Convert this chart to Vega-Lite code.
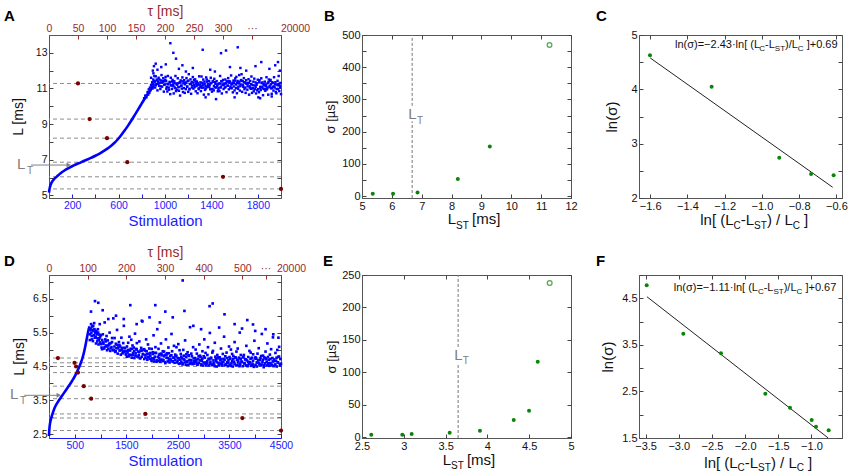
{
"$schema": "https://vega.github.io/schema/vega-lite/v6.json",
"background": "white",
"padding": {"left": 3, "top": 3, "right": 5, "bottom": 5},
"config": {
  "font": "Liberation Sans",
  "view": {"stroke": "#555", "strokeWidth": 1},
  "axis": {"grid": false, "domainColor": "#555", "tickColor": "#444", "tickSize": -4, "labelPadding": 6, "labelFontSize": 11, "labelColor": "#111", "titleFontSize": 14, "titleFontWeight": "normal", "titleColor": "#111", "labelFlush": false, "labelOverlap": false, "tickCount": 100},
  "text": {"font": "Liberation Sans"}
},
"columns": 5,
"spacing": {"row": 77, "column": 0},
"bounds": "flush",
"align": "each",
"concat": [
{
 "width": 232, "height": 163,
 "layer": [
  {"layer": [
    {"data": {"values": [{"y":5.36},{"y":6.04},{"y":6.86},{"y":8.21},{"y":9.28},{"y":11.28}]},
     "mark": {"type": "rule", "color": "#8c8c8c", "strokeDash": [4,3], "strokeWidth": 1},
     "encoding": {"y": {"field": "y", "type": "quantitative", "scale": {"domain": [4.85,14], "nice": false, "zero": false}, "axis": {"title": "L [ms]", "format": "d", "tickCount": 100, "labelOverlap": false, "values": [5,6,7,8,9,10,11,12,13], "labelExpr": "datum.value % 2 == 1 ? datum.label : ''", "titlePadding": 10, "labelFontSize": 10.5}}}},
    {"data": {"values": [{"x":0,"y":5.15},{"x":3,"y":5.3},{"x":8,"y":5.46},{"x":17,"y":5.64},{"x":30,"y":5.8},{"x":45,"y":5.92},{"x":60,"y":6.01},{"x":80,"y":6.13},{"x":100,"y":6.24},{"x":130,"y":6.38},{"x":160,"y":6.5},{"x":195,"y":6.62},{"x":230,"y":6.73},{"x":275,"y":6.85},{"x":320,"y":6.98},{"x":360,"y":7.1},{"x":400,"y":7.22},{"x":440,"y":7.36},{"x":480,"y":7.52},{"x":520,"y":7.7},{"x":560,"y":7.92},{"x":590,"y":8.12},{"x":620,"y":8.36},{"x":650,"y":8.62},{"x":680,"y":8.9},{"x":710,"y":9.2},{"x":740,"y":9.52},{"x":770,"y":9.84},{"x":800,"y":10.16},{"x":830,"y":10.48},{"x":860,"y":10.78},{"x":885,"y":11.0},{"x":905,"y":11.15}]},
     "mark": {"type": "line", "color": "#0000ff", "strokeWidth": 2.6, "interpolate": "monotone"},
     "encoding": {"x": {"field": "x", "type": "quantitative", "scale": {"domain": [0,2000], "nice": false, "zero": false}, "axis": {"title": "Stimulation", "titleColor": "#1a1aff", "titleFontSize": 15, "labelColor": "#1a1aff", "tickColor": "#1a1aff", "labelFontSize": 10.5, "format": "d", "tickCount": 100, "labelOverlap": false, "values": [200,400,600,800,1000,1200,1400,1600,1800], "labelExpr": "datum.value % 400 == 200 ? datum.label : ''", "titlePadding": 3}},
       "y": {"field": "y", "type": "quantitative"}}},
    {"data": {"values": [
{"x":820,"y":10.45},{"x":830,"y":10.6},{"x":840,"y":10.5},{"x":850,"y":10.8},{"x":855,"y":10.65},{"x":860,"y":10.95},{"x":865,"y":10.75},{"x":870,"y":11.05},{"x":875,"y":10.9},{"x":880,"y":11.2},{"x":885,"y":11.1},{"x":890,"y":11.35},{"x":893,"y":11.0},{"x":896,"y":11.25},{"x":899,"y":11.5},{"x":902,"y":11.2},{"x":905,"y":11.4},{"x":908,"y":11.7},{"x":900,"y":11.85},{"x":895,"y":12.0},{"x":905,"y":12.25},{"x":880,"y":11.6},
{"x":910,"y":11.42},{"x":915,"y":11.05},{"x":920,"y":11.68},{"x":925,"y":11.25},{"x":930,"y":11.5},{"x":935,"y":10.89},{"x":940,"y":11.38},{"x":945,"y":11.6},{"x":950,"y":11.15},{"x":955,"y":11.32},
{"x":960,"y":10.97},{"x":965,"y":11.45},{"x":970,"y":11.75},{"x":975,"y":11.1},{"x":980,"y":11.35},{"x":985,"y":11.57},{"x":990,"y":10.82},{"x":995,"y":11.4},{"x":1000,"y":11.22},{"x":1005,"y":11.65},
{"x":1010,"y":11.42},{"x":1015,"y":11.08},{"x":1020,"y":10.83},{"x":1025,"y":11.7},{"x":1030,"y":11.23},{"x":1035,"y":10.93},{"x":1040,"y":11.37},{"x":1045,"y":10.68},{"x":1050,"y":11.6},{"x":1055,"y":11.17},
{"x":1060,"y":10.97},{"x":1065,"y":11.48},{"x":1070,"y":11.22},{"x":1075,"y":10.72},{"x":1080,"y":11.4},{"x":1085,"y":11.05},{"x":1090,"y":11.7},{"x":1095,"y":10.85},{"x":1100,"y":11.28},{"x":1105,"y":10.93},
{"x":1110,"y":11.57},{"x":1115,"y":11.08},{"x":1120,"y":10.87},{"x":1125,"y":11.33},{"x":1130,"y":10.6},{"x":1135,"y":11.45},{"x":1140,"y":11.15},{"x":1145,"y":10.99},{"x":1150,"y":11.62},{"x":1155,"y":10.8},
{"x":1160,"y":11.29},{"x":1165,"y":11.46},{"x":1170,"y":10.75},{"x":1175,"y":11.34},{"x":1180,"y":10.96},{"x":1185,"y":11.58},{"x":1190,"y":11.09},{"x":1195,"y":11.41},{"x":1200,"y":10.81},{"x":1205,"y":11.8},
{"x":1210,"y":10.94},{"x":1215,"y":11.24},{"x":1220,"y":11.51},{"x":1225,"y":10.7},{"x":1230,"y":11.36},{"x":1235,"y":11.16},{"x":1240,"y":11.64},{"x":1245,"y":10.99},{"x":1250,"y":11.48},{"x":1255,"y":11.07},
{"x":1260,"y":11.51},{"x":1265,"y":10.84},{"x":1270,"y":11.26},{"x":1275,"y":11.39},{"x":1280,"y":10.73},{"x":1285,"y":11.21},{"x":1290,"y":10.96},{"x":1295,"y":11.68},{"x":1300,"y":11.06},{"x":1305,"y":11.34},
{"x":1310,"y":10.85},{"x":1315,"y":11.67},{"x":1320,"y":11.04},{"x":1325,"y":11.2},{"x":1330,"y":11.5},{"x":1335,"y":10.65},{"x":1340,"y":11.38},{"x":1345,"y":10.92},{"x":1350,"y":11.13},{"x":1355,"y":11.62},
{"x":1360,"y":11.5},{"x":1365,"y":11.07},{"x":1370,"y":11.25},{"x":1375,"y":10.67},{"x":1380,"y":11.42},{"x":1385,"y":11.2},{"x":1390,"y":10.95},{"x":1395,"y":11.6},{"x":1400,"y":11.3},{"x":1405,"y":10.82},
{"x":1410,"y":10.97},{"x":1415,"y":11.38},{"x":1420,"y":10.89},{"x":1425,"y":11.54},{"x":1430,"y":11.06},{"x":1435,"y":11.26},{"x":1440,"y":10.4},{"x":1445,"y":11.41},{"x":1450,"y":11.14},{"x":1455,"y":10.84},
{"x":1460,"y":10.93},{"x":1465,"y":11.28},{"x":1470,"y":10.85},{"x":1475,"y":11.7},{"x":1480,"y":11.05},{"x":1485,"y":11.4},{"x":1490,"y":10.72},{"x":1495,"y":11.22},{"x":1500,"y":11.48},{"x":1505,"y":10.97},
{"x":1510,"y":11.22},{"x":1515,"y":11.05},{"x":1520,"y":11.5},{"x":1525,"y":11.28},{"x":1530,"y":10.79},{"x":1535,"y":11.4},{"x":1540,"y":11.15},{"x":1545,"y":11.58},{"x":1550,"y":10.95},{"x":1555,"y":11.32},
{"x":1560,"y":11.39},{"x":1565,"y":11.11},{"x":1570,"y":11.73},{"x":1575,"y":11.01},{"x":1580,"y":11.26},{"x":1585,"y":10.78},{"x":1590,"y":11.44},{"x":1595,"y":11.31},{"x":1600,"y":10.89},{"x":1605,"y":11.56},
{"x":1610,"y":11.22},{"x":1615,"y":11.65},{"x":1620,"y":10.73},{"x":1625,"y":11.42},{"x":1630,"y":10.98},{"x":1635,"y":11.28},{"x":1640,"y":11.75},{"x":1645,"y":10.88},{"x":1650,"y":11.13},{"x":1655,"y":11.47},
{"x":1660,"y":11.8},{"x":1665,"y":10.81},{"x":1670,"y":11.41},{"x":1675,"y":11.09},{"x":1680,"y":11.58},{"x":1685,"y":10.96},{"x":1690,"y":11.34},{"x":1695,"y":10.75},{"x":1700,"y":11.46},{"x":1705,"y":11.29},
{"x":1710,"y":10.93},{"x":1715,"y":11.27},{"x":1720,"y":11.52},{"x":1725,"y":10.65},{"x":1730,"y":11.12},{"x":1735,"y":11.42},{"x":1740,"y":10.98},{"x":1745,"y":11.67},{"x":1750,"y":10.75},{"x":1755,"y":11.18},
{"x":1760,"y":11.01},{"x":1765,"y":10.84},{"x":1770,"y":11.55},{"x":1775,"y":10.96},{"x":1780,"y":11.34},{"x":1785,"y":10.72},{"x":1790,"y":11.21},{"x":1795,"y":10.89},{"x":1800,"y":11.49},{"x":1805,"y":10.5},
{"x":1810,"y":10.79},{"x":1815,"y":11.46},{"x":1820,"y":11.04},{"x":1825,"y":10.91},{"x":1830,"y":11.57},{"x":1835,"y":11.09},{"x":1840,"y":11.34},{"x":1845,"y":10.62},{"x":1850,"y":11.24},{"x":1855,"y":10.96},
{"x":1860,"y":11.38},{"x":1865,"y":10.87},{"x":1870,"y":11.13},{"x":1875,"y":11.63},{"x":1880,"y":10.95},{"x":1885,"y":11.3},{"x":1890,"y":10.65},{"x":1895,"y":11.5},{"x":1900,"y":11.07},{"x":1905,"y":11.42},
{"x":1910,"y":11.48},{"x":1915,"y":11.0},{"x":1920,"y":10.7},{"x":1925,"y":11.35},{"x":1930,"y":11.1},{"x":1935,"y":10.88},{"x":1940,"y":11.63},{"x":1945,"y":11.05},{"x":1950,"y":11.23},{"x":1955,"y":10.8},
{"x":1960,"y":10.73},{"x":1965,"y":11.22},{"x":1970,"y":11.43},{"x":1975,"y":10.97},{"x":1980,"y":11.7},{"x":1985,"y":10.85},{"x":1990,"y":11.15},{"x":1995,"y":11.31},{"x":2000,"y":10.68},
{"x":912,"y":11.38},{"x":922,"y":11.18},{"x":932,"y":11.45},{"x":942,"y":11.26},{"x":952,"y":11.5},{"x":962,"y":11.12},{"x":972,"y":11.33},{"x":982,"y":11.41},{"x":992,"y":11.21},{"x":1002,"y":11.49},
{"x":1012,"y":10.98},{"x":1022,"y":11.26},{"x":1032,"y":11.05},{"x":1042,"y":11.33},{"x":1052,"y":11.18},{"x":1062,"y":11.38},{"x":1072,"y":11.13},{"x":1082,"y":11.3},{"x":1092,"y":11.0},{"x":1102,"y":11.21},
{"x":1112,"y":11.28},{"x":1122,"y":11.08},{"x":1132,"y":11.35},{"x":1142,"y":11.16},{"x":1152,"y":11.4},{"x":1162,"y":11.02},{"x":1172,"y":11.23},{"x":1182,"y":11.31},{"x":1192,"y":11.11},{"x":1202,"y":11.44},
{"x":1212,"y":10.98},{"x":1222,"y":11.26},{"x":1232,"y":11.05},{"x":1242,"y":11.33},{"x":1252,"y":11.18},{"x":1262,"y":11.38},{"x":1272,"y":11.13},{"x":1282,"y":11.3},{"x":1292,"y":11.0},{"x":1302,"y":11.21},
{"x":1312,"y":11.12},{"x":1322,"y":11.32},{"x":1332,"y":11.05},{"x":1342,"y":11.24},{"x":1352,"y":11.0},{"x":1362,"y":11.38},{"x":1372,"y":11.17},{"x":1382,"y":11.09},{"x":1392,"y":11.29},{"x":1402,"y":10.96},
{"x":1412,"y":11.42},{"x":1422,"y":11.14},{"x":1432,"y":11.35},{"x":1442,"y":11.05},{"x":1452,"y":11.22},{"x":1462,"y":11.02},{"x":1472,"y":11.27},{"x":1482,"y":11.1},{"x":1492,"y":11.4},{"x":1502,"y":11.19},
{"x":1512,"y":11.28},{"x":1522,"y":11.08},{"x":1532,"y":11.35},{"x":1542,"y":11.16},{"x":1552,"y":11.4},{"x":1562,"y":11.02},{"x":1572,"y":11.23},{"x":1582,"y":11.31},{"x":1592,"y":11.11},{"x":1602,"y":11.44},
{"x":1612,"y":11.03},{"x":1622,"y":11.31},{"x":1632,"y":11.1},{"x":1642,"y":11.38},{"x":1652,"y":11.23},{"x":1662,"y":11.43},{"x":1672,"y":11.18},{"x":1682,"y":11.35},{"x":1692,"y":11.05},{"x":1702,"y":11.26},
{"x":1712,"y":11.12},{"x":1722,"y":11.32},{"x":1732,"y":11.05},{"x":1742,"y":11.24},{"x":1752,"y":11.0},{"x":1762,"y":11.38},{"x":1772,"y":11.17},{"x":1782,"y":11.09},{"x":1792,"y":11.29},{"x":1802,"y":10.96},
{"x":1812,"y":11.37},{"x":1822,"y":11.09},{"x":1832,"y":11.3},{"x":1842,"y":11.0},{"x":1852,"y":11.17},{"x":1862,"y":10.97},{"x":1872,"y":11.22},{"x":1882,"y":11.05},{"x":1892,"y":11.35},{"x":1902,"y":11.14},
{"x":1912,"y":11.23},{"x":1922,"y":11.03},{"x":1932,"y":11.3},{"x":1942,"y":11.11},{"x":1952,"y":11.35},{"x":1962,"y":10.97},{"x":1972,"y":11.18},{"x":1982,"y":11.26},{"x":1992,"y":11.06},
{"x":920,"y":12.39},{"x":935,"y":12.05},{"x":968,"y":12.2},{"x":1007,"y":12.35},{"x":1046,"y":13.54},{"x":1072,"y":13.0},{"x":1095,"y":12.67},{"x":1120,"y":12.1},{"x":1150,"y":12.3},{"x":1180,"y":11.95},{"x":1240,"y":12.15},{"x":1325,"y":13.17},{"x":1350,"y":10.5},{"x":1390,"y":12.05},{"x":1430,"y":11.95},{"x":1483,"y":12.98},{"x":1526,"y":13.13},{"x":1560,"y":12.2},{"x":1600,"y":10.5},{"x":1627,"y":13.31},{"x":1650,"y":12.15},{"x":1700,"y":12.0},{"x":1780,"y":12.25},{"x":1820,"y":10.45},{"x":1830,"y":12.48},{"x":1900,"y":12.1},{"x":1920,"y":10.55},{"x":1950,"y":12.3},{"x":1974,"y":12.48},{"x":1990,"y":12.0}
     ]},
     "mark": {"type": "square", "color": "#0000ff", "size": 6, "opacity": 1},
     "encoding": {"x": {"field": "x", "type": "quantitative"}, "y": {"field": "y", "type": "quantitative"}}},
    {"data": {"values": [{"x":-155,"x2":175,"y":6.7}]},
     "mark": {"type": "rule", "color": "#808080", "strokeWidth": 1},
     "encoding": {"x": {"field": "x", "type": "quantitative"}, "x2": {"field": "x2"}, "y": {"field": "y", "type": "quantitative"}}},
    {"data": {"values": [{"x":170,"y":6.7}]},
     "mark": {"type": "point", "shape": "triangle-right", "filled": true, "color": "#808080", "size": 26, "opacity": 1},
     "encoding": {"x": {"field": "x", "type": "quantitative"}, "y": {"field": "y", "type": "quantitative"}}},
    {"data": {"values": [{"x":-276,"y":6.48,"t":"L"}]},
     "mark": {"type": "text", "align": "left", "baseline": "alphabetic", "fontSize": 15, "color": "#808080"},
     "encoding": {"x": {"field": "x", "type": "quantitative"}, "y": {"field": "y", "type": "quantitative"}, "text": {"field": "t"}}},
    {"data": {"values": [{"x":-190,"y":6.22,"t":"T"}]},
     "mark": {"type": "text", "align": "left", "baseline": "alphabetic", "fontSize": 10, "color": "#808080"},
     "encoding": {"x": {"field": "x", "type": "quantitative"}, "y": {"field": "y", "type": "quantitative"}, "text": {"field": "t"}}},
    {"data": {"values": [{"x":-388,"y":14.79,"t":"A"}]},
     "mark": {"type": "text", "align": "left", "baseline": "alphabetic", "fontSize": 15, "fontWeight": "bold", "color": "#000"},
     "encoding": {"x": {"field": "x", "type": "quantitative"}, "y": {"field": "y", "type": "quantitative"}, "text": {"field": "t"}}}
  ]},
  {"data": {"values": [{"x":50,"y":11.28},{"x":70,"y":9.28},{"x":100,"y":8.21},{"x":135,"y":6.86},{"x":300,"y":6.04},{"x":400,"y":5.36}]},
   "mark": {"type": "circle", "color": "#7a0000", "size": 18, "opacity": 1},
   "encoding": {
     "x": {"field": "x", "type": "quantitative", "scale": {"domain": [0,400], "nice": false, "zero": false}, "axis": {"orient": "top", "title": "τ [ms]", "titleColor": "#992a2a", "titleFontSize": 14, "labelColor": "#992a2a", "tickColor": "#992a2a", "domainColor": "#a03c3c", "labelFontSize": 10.5, "format": "d", "tickCount": 100, "labelOverlap": false, "values": [0,50,100,150,200,250,300,350,400], "labelExpr": "datum.value == 350 ? '···' : datum.value == 400 ? '20000' : datum.label", "labelOffset": {"condition": {"test": "datum.value == 400", "value": 14}, "value": 0}, "titlePadding": 5}},
     "y": {"field": "y", "type": "quantitative", "scale": {"domain": [4.85,14], "nice": false, "zero": false}, "axis": {"orient": "right", "labels": false, "title": null, "domain": false, "tickCount": 100, "values": [5,6,7,8,9,10,11,12,13]}}}}
 ],
 "resolve": {"scale": {"x": "independent"}, "axis": {"x": "independent", "y": "independent"}}
},
{"width": 81, "height": 163, "view": {"stroke": null}, "data": {"values": [{"a":1}]}, "mark": {"type": "point", "opacity": 0}, "encoding": {}},
{
 "width": 209, "height": 163,
 "layer": [
  {"layer": [
    {"data": {"values": [{"x":6.68,"y":-6,"y2":232},{"x":6.68,"y":280,"y2":500}]},
     "mark": {"type": "rule", "color": "#777", "strokeDash": [3,2], "strokeWidth": 1},
     "encoding": {"x": {"field": "x", "type": "quantitative", "scale": {"domain": [5,12], "nice": false, "zero": false}, "axis": {"title": null, "format": "d", "tickCount": 100, "labelOverlap": false, "values": [5,6,7,8,9,10,11,12]}},
       "y": {"field": "y", "type": "quantitative", "scale": {"domain": [-6,500], "nice": false, "zero": false}, "axis": {"title": "σ [µs]", "titleFontSize": 13, "format": "d", "tickCount": 100, "labelOverlap": false, "values": [0,50,100,150,200,250,300,350,400,450,500], "labelExpr": "datum.value % 100 == 0 ? datum.label : ''", "titlePadding": 4}},
       "y2": {"field": "y2"}}},
    {"data": {"values": [{"x":5.36,"y":7},{"x":6.04,"y":7},{"x":6.86,"y":11},{"x":8.21,"y":53},{"x":9.28,"y":154}]},
     "mark": {"type": "circle", "color": "#0a840a", "size": 16, "opacity": 1},
     "encoding": {"x": {"field": "x", "type": "quantitative"}, "y": {"field": "y", "type": "quantitative"}}},
    {"data": {"values": [{"x":11.28,"y":469}]},
     "mark": {"type": "point", "filled": false, "color": "#0a840a", "size": 22, "strokeWidth": 1.3},
     "encoding": {"x": {"field": "x", "type": "quantitative"}, "y": {"field": "y", "type": "quantitative"}}},
    {"data": {"values": [{"x":6.551,"y":238.3,"t":"L"},{"x":7.87,"y":-86.8,"t":"L"},{"x":8.684,"y":-86.8,"t":"[ms]"}]},
     "mark": {"type": "text", "align": "left", "baseline": "alphabetic", "fontSize": 15, "color": "#111"},
     "encoding": {"x": {"field": "x", "type": "quantitative"}, "y": {"field": "y", "type": "quantitative"}, "text": {"field": "t"}, "color": {"condition": {"test": "datum.y > 0", "value": "#808080"}, "value": "#111"}}},
    {"data": {"values": [{"x":6.842,"y":224.6,"t":"T"},{"x":8.148,"y":-100.8,"t":"ST"}]},
     "mark": {"type": "text", "align": "left", "baseline": "alphabetic", "fontSize": 10},
     "encoding": {"x": {"field": "x", "type": "quantitative"}, "y": {"field": "y", "type": "quantitative"}, "text": {"field": "t"}, "color": {"condition": {"test": "datum.y > 0", "value": "#808080"}, "value": "#111"}}},
    {"data": {"values": [{"x":3.727,"y":543.5,"t":"B"}]},
     "mark": {"type": "text", "align": "left", "baseline": "alphabetic", "fontSize": 15, "fontWeight": "bold", "color": "#000"},
     "encoding": {"x": {"field": "x", "type": "quantitative"}, "y": {"field": "y", "type": "quantitative"}, "text": {"field": "t"}}}
  ]},
  {"data": {"values": [{"x":5,"y":0}]},
   "mark": {"type": "point", "opacity": 0},
   "encoding": {"x": {"field": "x", "type": "quantitative", "scale": {"domain": [5,12], "nice": false, "zero": false}, "axis": {"orient": "top", "labels": false, "title": null, "domain": false, "tickCount": 100, "values": [5,6,7,8,9,10,11,12]}},
     "y": {"field": "y", "type": "quantitative", "scale": {"domain": [-6,500], "nice": false, "zero": false}, "axis": {"orient": "right", "labels": false, "title": null, "domain": false, "tickCount": 100, "values": [0,50,100,150,200,250,300,350,400,450,500]}}}}
 ],
 "resolve": {"axis": {"x": "independent", "y": "independent"}}
},
{"width": 68, "height": 163, "view": {"stroke": null}, "data": {"values": [{"a":1}]}, "mark": {"type": "point", "opacity": 0}, "encoding": {}},
{
 "width": 203, "height": 163,
 "layer": [
  {"layer": [
    {"data": {"values": [{"x":-1.6,"y":4.578},{"x":-0.62,"y":2.197}]},
     "mark": {"type": "line", "color": "#222", "strokeWidth": 1},
     "encoding": {"x": {"field": "x", "type": "quantitative", "scale": {"domain": [-1.66,-0.57], "nice": false, "zero": false}, "axis": {"title": null, "tickCount": 100, "labelOverlap": false, "values": [-1.6,-1.4,-1.2,-1.0,-0.8,-0.6], "format": ".1f"}},
       "y": {"field": "y", "type": "quantitative", "scale": {"domain": [2,5], "nice": false, "zero": false}, "axis": {"title": "ln(σ)", "titleFontSize": 15, "tickCount": 100, "labelOverlap": false, "values": [2,2.5,3,3.5,4,4.5,5], "format": "~g", "labelExpr": "datum.value % 1 == 0 ? datum.label : ''", "titlePadding": 11}}}},
    {"data": {"values": [{"x":-1.601,"y":4.626},{"x":-1.27,"y":4.049},{"x":-0.907,"y":2.742},{"x":-0.736,"y":2.442},{"x":-0.615,"y":2.418}]},
     "mark": {"type": "circle", "color": "#0a840a", "size": 16, "opacity": 1},
     "encoding": {"x": {"field": "x", "type": "quantitative"}, "y": {"field": "y", "type": "quantitative"}}},
    {"data": {"values": [{"x":-1.4667,"y":4.766,"t":"ln(σ)=−2.43·ln[ (L"},{"x":-0.9834,"y":4.766,"t":"-L"},{"x":-0.8761,"y":4.766,"t":")/L"},{"x":-0.7596,"y":4.766,"t":"]+0.69"}]},
     "mark": {"type": "text", "align": "left", "baseline": "alphabetic", "fontSize": 11, "color": "#111"},
     "encoding": {"x": {"field": "x", "type": "quantitative"}, "y": {"field": "y", "type": "quantitative"}, "text": {"field": "t"}}},
    {"data": {"values": [{"x":-1.0146,"y":4.711,"t":"C"},{"x":-0.9308,"y":4.711,"t":"ST"},{"x":-0.8073,"y":4.711,"t":"C"}]},
     "mark": {"type": "text", "align": "left", "baseline": "alphabetic", "fontSize": 8, "color": "#111"},
     "encoding": {"x": {"field": "x", "type": "quantitative"}, "y": {"field": "y", "type": "quantitative"}, "text": {"field": "t"}}},
    {"data": {"values": [{"x":-1.3309,"y":1.503,"t":"ln[ (L"},{"x":-1.1134,"y":1.503,"t":"-L"},{"x":-0.9733,"y":1.503,"t":") / L"},{"x":-0.7735,"y":1.503,"t":"]"}]},
     "mark": {"type": "text", "align": "left", "baseline": "alphabetic", "fontSize": 15, "color": "#111"},
     "encoding": {"x": {"field": "x", "type": "quantitative"}, "y": {"field": "y", "type": "quantitative"}, "text": {"field": "t"}}},
    {"data": {"values": [{"x":-1.1521,"y":1.429,"t":"C"},{"x":-1.042,"y":1.429,"t":"ST"},{"x":-0.8347,"y":1.429,"t":"C"}]},
     "mark": {"type": "text", "align": "left", "baseline": "alphabetic", "fontSize": 10, "color": "#111"},
     "encoding": {"x": {"field": "x", "type": "quantitative"}, "y": {"field": "y", "type": "quantitative"}, "text": {"field": "t"}}},
    {"data": {"values": [{"x":-1.891,"y":5.258,"t":"C"}]},
     "mark": {"type": "text", "align": "left", "baseline": "alphabetic", "fontSize": 15, "fontWeight": "bold", "color": "#000"},
     "encoding": {"x": {"field": "x", "type": "quantitative"}, "y": {"field": "y", "type": "quantitative"}, "text": {"field": "t"}}}
  ]},
  {"data": {"values": [{"x":-1.6,"y":2}]},
   "mark": {"type": "point", "opacity": 0},
   "encoding": {"x": {"field": "x", "type": "quantitative", "scale": {"domain": [-1.66,-0.57], "nice": false, "zero": false}, "axis": {"orient": "top", "labels": false, "title": null, "domain": false, "tickCount": 100, "values": [-1.6,-1.4,-1.2,-1.0,-0.8,-0.6]}},
     "y": {"field": "y", "type": "quantitative", "scale": {"domain": [2,5], "nice": false, "zero": false}, "axis": {"orient": "right", "labels": false, "title": null, "domain": false, "tickCount": 100, "values": [2,2.5,3,3.5,4,4.5,5]}}}}
 ],
 "resolve": {"axis": {"x": "independent", "y": "independent"}}
},
{
 "width": 232, "height": 163,
 "layer": [
  {"layer": [
    {"data": {"values": [{"y":2.61},{"y":2.98},{"y":3.1},{"y":3.55},{"y":3.92},{"y":4.32},{"y":4.5},{"y":4.61},{"y":4.75}]},
     "mark": {"type": "rule", "color": "#8c8c8c", "strokeDash": [4,3], "strokeWidth": 1},
     "encoding": {"y": {"field": "y", "type": "quantitative", "scale": {"domain": [2.39,7.2], "nice": false, "zero": false}, "axis": {"title": "L [ms]", "format": ".1f", "tickCount": 100, "labelOverlap": false, "values": [2.5,3,3.5,4,4.5,5,5.5,6,6.5,7], "labelExpr": "datum.value % 1 == 0.5 ? datum.label : ''", "titlePadding": 6, "labelFontSize": 10.5}}}},
    {"data": {"values": [{"x":0,"y":2.45},{"x":4,"y":2.58},{"x":10,"y":2.7},{"x":20,"y":2.82},{"x":35,"y":2.93},{"x":55,"y":3.04},{"x":80,"y":3.16},{"x":110,"y":3.28},{"x":150,"y":3.4},{"x":200,"y":3.52},{"x":250,"y":3.63},{"x":300,"y":3.74},{"x":350,"y":3.85},{"x":400,"y":3.96},{"x":450,"y":4.08},{"x":500,"y":4.21},{"x":545,"y":4.35},{"x":590,"y":4.5},{"x":625,"y":4.64},{"x":655,"y":4.78},{"x":680,"y":4.93},{"x":700,"y":5.07},{"x":720,"y":5.22},{"x":740,"y":5.38},{"x":758,"y":5.52},{"x":775,"y":5.63}]},
     "mark": {"type": "line", "color": "#0000ff", "strokeWidth": 2.6, "interpolate": "monotone"},
     "encoding": {"x": {"field": "x", "type": "quantitative", "scale": {"domain": [0,4500], "nice": false, "zero": false}, "axis": {"title": "Stimulation", "titleColor": "#1a1aff", "titleFontSize": 15, "labelColor": "#1a1aff", "tickColor": "#1a1aff", "domainColor": "#1a1aff", "labelFontSize": 10.5, "format": "d", "tickCount": 100, "labelOverlap": false, "values": [500,1000,1500,2000,2500,3000,3500,4000,4500], "labelExpr": "datum.value % 1000 == 500 ? datum.label : ''", "titlePadding": 3}},
       "y": {"field": "y", "type": "quantitative"}}},
    {"data": {"values": [
{"x":780,"y":5.65},{"x":792,"y":5.28},{"x":804,"y":5.58},{"x":816,"y":5.75},{"x":828,"y":5.4},{"x":840,"y":5.68},{"x":852,"y":5.25},{"x":864,"y":5.55},{"x":876,"y":5.78},{"x":888,"y":5.35},
{"x":798,"y":5.45},{"x":810,"y":5.62},{"x":822,"y":5.5},{"x":834,"y":5.3},{"x":846,"y":5.58},{"x":858,"y":5.7},{"x":870,"y":5.42},{"x":882,"y":5.6},{"x":894,"y":5.5},{"x":906,"y":5.38},{"x":918,"y":5.55},{"x":930,"y":5.45},{"x":942,"y":5.33},{"x":954,"y":5.5},{"x":966,"y":5.28},{"x":978,"y":5.44},{"x":990,"y":5.36},
{"x":900,"y":5.35},{"x":912,"y":5.18},{"x":924,"y":5.48},{"x":936,"y":5.24},{"x":948,"y":5.6},{"x":960,"y":5.15},{"x":972,"y":5.32},{"x":984,"y":5.75},{"x":996,"y":5.21},{"x":1008,"y":5.42},
{"x":1020,"y":5.06},{"x":1032,"y":5.28},{"x":1044,"y":5.45},{"x":1056,"y":5.17},{"x":1068,"y":5.03},{"x":1080,"y":5.8},{"x":1092,"y":5.3},{"x":1104,"y":5.12},{"x":1116,"y":5.4},{"x":1128,"y":5.09},
{"x":1140,"y":5.27},{"x":1152,"y":5.02},{"x":1164,"y":5.15},{"x":1176,"y":5.5},{"x":1188,"y":4.96},{"x":1200,"y":5.19},{"x":1212,"y":5.07},{"x":1224,"y":5.34},{"x":1236,"y":4.99},{"x":1248,"y":5.92},
{"x":1260,"y":4.99},{"x":1272,"y":5.34},{"x":1284,"y":4.93},{"x":1296,"y":5.17},{"x":1308,"y":5.04},{"x":1320,"y":5.58},{"x":1332,"y":4.88},{"x":1344,"y":5.12},{"x":1356,"y":5.22},{"x":1368,"y":4.97},
{"x":1380,"y":5.09},{"x":1392,"y":4.85},{"x":1404,"y":5.35},{"x":1416,"y":5.0},{"x":1428,"y":4.89},{"x":1440,"y":5.19},{"x":1452,"y":5.7},{"x":1464,"y":4.94},{"x":1476,"y":5.04},{"x":1488,"y":4.86},
{"x":1500,"y":4.86},{"x":1512,"y":5.09},{"x":1524,"y":4.92},{"x":1536,"y":5.2},{"x":1548,"y":4.8},{"x":1560,"y":5.38},{"x":1572,"y":4.97},{"x":1584,"y":4.84},{"x":1596,"y":5.29},{"x":1608,"y":5.02},
{"x":1620,"y":5.12},{"x":1632,"y":4.84},{"x":1644,"y":5.06},{"x":1656,"y":4.75},{"x":1668,"y":5.47},{"x":1680,"y":4.89},{"x":1692,"y":5.02},{"x":1704,"y":5.19},{"x":1716,"y":4.79},{"x":1728,"y":4.94},
{"x":1740,"y":4.83},{"x":1752,"y":5.24},{"x":1764,"y":4.74},{"x":1776,"y":4.97},{"x":1788,"y":5.05},{"x":1800,"y":4.79},{"x":1812,"y":5.83},{"x":1824,"y":4.86},{"x":1836,"y":5.0},{"x":1848,"y":4.72},
{"x":1860,"y":4.97},{"x":1872,"y":4.76},{"x":1884,"y":5.3},{"x":1896,"y":4.87},{"x":1908,"y":4.7},{"x":1920,"y":5.15},{"x":1932,"y":4.79},{"x":1944,"y":5.03},{"x":1956,"y":4.73},{"x":1968,"y":4.9},
{"x":1980,"y":4.71},{"x":1992,"y":5.02},{"x":2004,"y":4.74},{"x":2016,"y":4.92},{"x":2028,"y":5.42},{"x":2040,"y":4.65},{"x":2052,"y":4.79},{"x":2064,"y":5.07},{"x":2076,"y":4.9},{"x":2088,"y":4.68},
{"x":2100,"y":5.6},{"x":2112,"y":4.67},{"x":2124,"y":5.02},{"x":2136,"y":4.75},{"x":2148,"y":4.87},{"x":2160,"y":4.64},{"x":2172,"y":5.18},{"x":2184,"y":4.83},{"x":2196,"y":4.7},{"x":2208,"y":4.95},
{"x":2220,"y":4.69},{"x":2232,"y":4.94},{"x":2244,"y":4.84},{"x":2256,"y":4.6},{"x":2268,"y":5.3},{"x":2280,"y":4.76},{"x":2292,"y":4.89},{"x":2304,"y":4.65},{"x":2316,"y":5.06},{"x":2328,"y":4.71},
{"x":2340,"y":4.62},{"x":2352,"y":4.8},{"x":2364,"y":4.7},{"x":2376,"y":5.46},{"x":2388,"y":4.95},{"x":2400,"y":4.65},{"x":2412,"y":4.76},{"x":2424,"y":5.11},{"x":2436,"y":4.61},{"x":2448,"y":4.85},
{"x":2460,"y":4.8},{"x":2472,"y":5.07},{"x":2484,"y":4.62},{"x":2496,"y":4.75},{"x":2508,"y":5.16},{"x":2520,"y":4.58},{"x":2532,"y":4.98},{"x":2544,"y":4.7},{"x":2556,"y":4.87},{"x":2568,"y":4.64},
{"x":2580,"y":4.74},{"x":2592,"y":4.59},{"x":2604,"y":4.99},{"x":2616,"y":4.82},{"x":2628,"y":4.69},{"x":2640,"y":5.27},{"x":2652,"y":4.55},{"x":2664,"y":4.86},{"x":2676,"y":4.64},{"x":2688,"y":4.92},
{"x":2700,"y":4.55},{"x":2712,"y":4.83},{"x":2724,"y":4.69},{"x":2736,"y":5.66},{"x":2748,"y":4.62},{"x":2760,"y":4.88},{"x":2772,"y":4.8},{"x":2784,"y":4.57},{"x":2796,"y":5.07},{"x":2808,"y":4.66},
{"x":2820,"y":4.58},{"x":2832,"y":4.75},{"x":2844,"y":5.0},{"x":2856,"y":4.64},{"x":2868,"y":4.88},{"x":2880,"y":4.55},{"x":2892,"y":4.72},{"x":2904,"y":4.61},{"x":2916,"y":5.15},{"x":2928,"y":4.82},
{"x":2940,"y":4.78},{"x":2952,"y":4.56},{"x":2964,"y":4.67},{"x":2976,"y":4.95},{"x":2988,"y":4.53},{"x":3000,"y":4.8},{"x":3012,"y":5.3},{"x":3024,"y":4.59},{"x":3036,"y":4.9},{"x":3048,"y":4.62},
{"x":3060,"y":4.59},{"x":3072,"y":4.84},{"x":3084,"y":5.07},{"x":3096,"y":4.53},{"x":3108,"y":4.72},{"x":3120,"y":5.49},{"x":3132,"y":4.64},{"x":3144,"y":4.76},{"x":3156,"y":4.56},{"x":3168,"y":4.91},
{"x":3180,"y":4.96},{"x":3192,"y":4.61},{"x":3204,"y":4.55},{"x":3216,"y":5.2},{"x":3228,"y":4.79},{"x":3240,"y":4.66},{"x":3252,"y":4.5},{"x":3264,"y":4.84},{"x":3276,"y":4.74},{"x":3288,"y":4.59},
{"x":3300,"y":4.53},{"x":3312,"y":4.77},{"x":3324,"y":4.68},{"x":3336,"y":5.03},{"x":3348,"y":4.57},{"x":3360,"y":4.62},{"x":3372,"y":4.87},{"x":3384,"y":4.72},{"x":3396,"y":5.38},{"x":3408,"y":4.54},
{"x":3420,"y":4.8},{"x":3432,"y":4.57},{"x":3444,"y":4.91},{"x":3456,"y":4.63},{"x":3468,"y":4.51},{"x":3480,"y":4.68},{"x":3492,"y":5.09},{"x":3504,"y":4.55},{"x":3516,"y":4.73},{"x":3528,"y":5.0},
{"x":3540,"y":4.59},{"x":3552,"y":4.87},{"x":3564,"y":4.5},{"x":3576,"y":4.81},{"x":3588,"y":4.64},{"x":3600,"y":5.22},{"x":3612,"y":4.77},{"x":3624,"y":4.54},{"x":3636,"y":4.94},{"x":3648,"y":4.69},
{"x":3660,"y":5.03},{"x":3672,"y":4.62},{"x":3684,"y":4.76},{"x":3696,"y":4.53},{"x":3708,"y":4.58},{"x":3720,"y":4.84},{"x":3732,"y":4.65},{"x":3744,"y":5.62},{"x":3756,"y":4.51},{"x":3768,"y":4.79},
{"x":3780,"y":4.84},{"x":3792,"y":4.6},{"x":3804,"y":4.71},{"x":3816,"y":4.54},{"x":3828,"y":5.11},{"x":3840,"y":4.68},{"x":3852,"y":4.51},{"x":3864,"y":4.78},{"x":3876,"y":4.57},{"x":3888,"y":4.96},
{"x":3900,"y":4.63},{"x":3912,"y":4.91},{"x":3924,"y":4.52},{"x":3936,"y":4.76},{"x":3948,"y":4.58},{"x":3960,"y":4.86},{"x":3972,"y":4.49},{"x":3984,"y":5.26},{"x":3996,"y":4.74},{"x":4008,"y":4.55},
{"x":4020,"y":4.73},{"x":4032,"y":4.5},{"x":4044,"y":4.88},{"x":4056,"y":4.61},{"x":4068,"y":5.04},{"x":4080,"y":4.56},{"x":4092,"y":4.69},{"x":4104,"y":4.53},{"x":4116,"y":4.81},{"x":4128,"y":5.46},
{"x":4140,"y":4.64},{"x":4152,"y":4.82},{"x":4164,"y":4.48},{"x":4176,"y":4.77},{"x":4188,"y":4.59},{"x":4200,"y":4.94},{"x":4212,"y":4.72},{"x":4224,"y":4.53},{"x":4236,"y":5.18},{"x":4248,"y":4.57},
{"x":4260,"y":4.7},{"x":4272,"y":4.52},{"x":4284,"y":4.85},{"x":4296,"y":4.6},{"x":4308,"y":5.01},{"x":4320,"y":4.55},{"x":4332,"y":4.75},{"x":4344,"y":5.36},{"x":4356,"y":4.51},{"x":4368,"y":4.66},
{"x":4380,"y":4.54},{"x":4392,"y":4.9},{"x":4404,"y":4.67},{"x":4416,"y":4.5},{"x":4428,"y":4.99},{"x":4440,"y":4.62},{"x":4452,"y":4.79},{"x":4464,"y":5.08},{"x":4476,"y":4.56},{"x":4488,"y":4.72},{"x":4500,"y":4.58},
{"x":1006,"y":5.16},{"x":1030,"y":5.01},{"x":1054,"y":5.21},{"x":1078,"y":5.07},{"x":1102,"y":5.24},{"x":1126,"y":4.98},{"x":1150,"y":5.12},{"x":1174,"y":5.18},{"x":1198,"y":5.04},{"x":1222,"y":5.22},{"x":1246,"y":4.98},{"x":1270,"y":5.09},{"x":1294,"y":4.95},{"x":1318,"y":5.14},{"x":1342,"y":5.04},{"x":1366,"y":5.13},{"x":1390,"y":4.98},{"x":1414,"y":5.05},{"x":1438,"y":4.94},{"x":1462,"y":5.05},
{"x":1486,"y":4.95},{"x":1510,"y":4.79},{"x":1534,"y":4.99},{"x":1558,"y":4.85},{"x":1582,"y":5.02},{"x":1606,"y":4.76},{"x":1630,"y":4.9},{"x":1654,"y":4.96},{"x":1678,"y":4.82},{"x":1702,"y":5.0},{"x":1726,"y":4.78},{"x":1750,"y":4.92},{"x":1774,"y":4.75},{"x":1798,"y":4.97},{"x":1822,"y":4.87},{"x":1846,"y":5.01},{"x":1870,"y":4.83},{"x":1894,"y":4.95},{"x":1918,"y":4.77},{"x":1942,"y":4.88},
{"x":1966,"y":4.82},{"x":1990,"y":4.67},{"x":2014,"y":4.87},{"x":2038,"y":4.73},{"x":2062,"y":4.9},{"x":2086,"y":4.64},{"x":2110,"y":4.78},{"x":2134,"y":4.84},{"x":2158,"y":4.7},{"x":2182,"y":4.88},{"x":2206,"y":4.66},{"x":2230,"y":4.8},{"x":2254,"y":4.63},{"x":2278,"y":4.85},{"x":2302,"y":4.75},{"x":2326,"y":4.89},{"x":2350,"y":4.71},{"x":2374,"y":4.83},{"x":2398,"y":4.65},{"x":2422,"y":4.76},
{"x":2446,"y":4.7},{"x":2470,"y":4.82},{"x":2494,"y":4.67},{"x":2518,"y":4.74},{"x":2542,"y":4.59},{"x":2566,"y":4.79},{"x":2590,"y":4.56},{"x":2614,"y":4.72},{"x":2638,"y":4.62},{"x":2662,"y":4.78},{"x":2686,"y":4.66},{"x":2710,"y":4.82},{"x":2734,"y":4.58},{"x":2758,"y":4.69},{"x":2782,"y":4.6},{"x":2806,"y":4.74},{"x":2830,"y":4.64},{"x":2854,"y":4.7},{"x":2878,"y":4.57},{"x":2902,"y":4.8},
{"x":2926,"y":4.68},{"x":2950,"y":4.55},{"x":2974,"y":4.73},{"x":2998,"y":4.62},{"x":3022,"y":4.76},{"x":3046,"y":4.53},{"x":3070,"y":4.66},{"x":3094,"y":4.72},{"x":3118,"y":4.58},{"x":3142,"y":4.74},{"x":3166,"y":4.54},{"x":3190,"y":4.68},{"x":3214,"y":4.51},{"x":3238,"y":4.73},{"x":3262,"y":4.63},{"x":3286,"y":4.77},{"x":3310,"y":4.59},{"x":3334,"y":4.71},{"x":3358,"y":4.53},{"x":3382,"y":4.64},
{"x":3406,"y":4.7},{"x":3430,"y":4.55},{"x":3454,"y":4.75},{"x":3478,"y":4.61},{"x":3502,"y":4.78},{"x":3526,"y":4.52},{"x":3550,"y":4.66},{"x":3574,"y":4.72},{"x":3598,"y":4.58},{"x":3622,"y":4.76},{"x":3646,"y":4.54},{"x":3670,"y":4.68},{"x":3694,"y":4.51},{"x":3718,"y":4.73},{"x":3742,"y":4.63},{"x":3766,"y":4.77},{"x":3790,"y":4.59},{"x":3814,"y":4.71},{"x":3838,"y":4.53},{"x":3862,"y":4.64},
{"x":3886,"y":4.58},{"x":3910,"y":4.73},{"x":3934,"y":4.55},{"x":3958,"y":4.67},{"x":3982,"y":4.52},{"x":4006,"y":4.77},{"x":4030,"y":4.62},{"x":4054,"y":4.68},{"x":4078,"y":4.59},{"x":4102,"y":4.75},{"x":4126,"y":4.56},{"x":4150,"y":4.7},{"x":4174,"y":4.53},{"x":4198,"y":4.74},{"x":4222,"y":4.64},{"x":4246,"y":4.78},{"x":4270,"y":4.6},{"x":4294,"y":4.72},{"x":4318,"y":4.54},{"x":4342,"y":4.65},
{"x":4366,"y":4.71},{"x":4390,"y":4.56},{"x":4414,"y":4.76},{"x":4438,"y":4.62},{"x":4462,"y":4.79},{"x":4486,"y":4.53},
{"x":815,"y":6.12},{"x":892,"y":6.43},{"x":956,"y":6.38},{"x":1041,"y":6.16},{"x":1150,"y":5.9},{"x":1300,"y":6.0},{"x":1450,"y":5.9},{"x":1577,"y":6.31},{"x":1700,"y":5.75},{"x":1800,"y":5.85},{"x":1950,"y":5.95},{"x":2062,"y":6.31},{"x":2150,"y":5.8},{"x":2256,"y":6.12},{"x":2400,"y":5.95},{"x":2593,"y":7.04},{"x":2627,"y":6.14},{"x":2800,"y":5.7},{"x":2950,"y":5.6},{"x":3115,"y":6.28},{"x":3175,"y":6.36},{"x":3300,"y":5.65},{"x":3404,"y":6.04},{"x":3600,"y":5.75},{"x":3700,"y":5.5},{"x":3846,"y":5.87},{"x":3957,"y":5.74},{"x":4000,"y":5.55},{"x":4200,"y":5.6},{"x":4350,"y":5.45},{"x":4450,"y":5.35}
     ]},
     "mark": {"type": "square", "color": "#0000ff", "size": 7, "opacity": 1},
     "encoding": {"x": {"field": "x", "type": "quantitative"}, "y": {"field": "y", "type": "quantitative"}}},
    {"data": {"values": [{"x":-479,"x2":190,"y":3.65}]},
     "mark": {"type": "rule", "color": "#808080", "strokeWidth": 1},
     "encoding": {"x": {"field": "x", "type": "quantitative"}, "x2": {"field": "x2"}, "y": {"field": "y", "type": "quantitative"}}},
    {"data": {"values": [{"x":190,"y":3.65}]},
     "mark": {"type": "point", "shape": "triangle-right", "filled": true, "color": "#808080", "size": 26, "opacity": 1},
     "encoding": {"x": {"field": "x", "type": "quantitative"}, "y": {"field": "y", "type": "quantitative"}}},
    {"data": {"values": [{"x":-756,"y":3.541,"t":"L"}]},
     "mark": {"type": "text", "align": "left", "baseline": "alphabetic", "fontSize": 15, "color": "#808080"},
     "encoding": {"x": {"field": "x", "type": "quantitative"}, "y": {"field": "y", "type": "quantitative"}, "text": {"field": "t"}}},
    {"data": {"values": [{"x":-562,"y":3.393,"t":"T"}]},
     "mark": {"type": "text", "align": "left", "baseline": "alphabetic", "fontSize": 10, "color": "#808080"},
     "encoding": {"x": {"field": "x", "type": "quantitative"}, "y": {"field": "y", "type": "quantitative"}, "text": {"field": "t"}}},
    {"data": {"values": [{"x":-873,"y":7.466,"t":"D"}]},
     "mark": {"type": "text", "align": "left", "baseline": "alphabetic", "fontSize": 15, "fontWeight": "bold", "color": "#000"},
     "encoding": {"x": {"field": "x", "type": "quantitative"}, "y": {"field": "y", "type": "quantitative"}, "text": {"field": "t"}}}
  ]},
  {"data": {"values": [{"x":23,"y":4.75},{"x":66,"y":4.61},{"x":70,"y":4.5},{"x":75,"y":4.32},{"x":90,"y":3.92},{"x":109,"y":3.55},{"x":249,"y":3.1},{"x":500,"y":2.98},{"x":600,"y":2.61}]},
   "mark": {"type": "circle", "color": "#7a0000", "size": 18, "opacity": 1},
   "encoding": {
     "x": {"field": "x", "type": "quantitative", "scale": {"domain": [0,600], "nice": false, "zero": false}, "axis": {"orient": "top", "title": "τ [ms]", "titleColor": "#992a2a", "titleFontSize": 14, "labelColor": "#992a2a", "tickColor": "#992a2a", "domainColor": "#a03c3c", "labelFontSize": 10.5, "format": "d", "tickCount": 100, "labelOverlap": false, "values": [0,100,200,300,400,500,560,600], "labelExpr": "datum.value == 560 ? '···' : datum.value == 600 ? '20000' : datum.label", "labelOffset": {"condition": {"test": "datum.value == 600", "value": 10}, "value": 0}, "titlePadding": 4}},
     "y": {"field": "y", "type": "quantitative", "scale": {"domain": [2.39,7.2], "nice": false, "zero": false}, "axis": {"orient": "right", "labels": false, "title": null, "domain": false, "tickCount": 100, "values": [2.5,3,3.5,4,4.5,5,5.5,6,6.5,7]}}}}
 ],
 "resolve": {"scale": {"x": "independent"}, "axis": {"x": "independent", "y": "independent"}}
},
{"width": 81, "height": 163, "view": {"stroke": null}, "data": {"values": [{"a":1}]}, "mark": {"type": "point", "opacity": 0}, "encoding": {}},
{
 "width": 209, "height": 163,
 "layer": [
  {"layer": [
    {"data": {"values": [{"x":3.65,"y":-1.5,"y2":113},{"x":3.65,"y":139,"y2":250}]},
     "mark": {"type": "rule", "color": "#777", "strokeDash": [3,2], "strokeWidth": 1},
     "encoding": {"x": {"field": "x", "type": "quantitative", "scale": {"domain": [2.5,5], "nice": false, "zero": false}, "axis": {"title": null, "tickCount": 100, "labelOverlap": false, "values": [2.5,3,3.5,4,4.5,5], "format": "~g"}},
       "y": {"field": "y", "type": "quantitative", "scale": {"domain": [-1.5,250], "nice": false, "zero": false}, "axis": {"title": "σ [µs]", "titleFontSize": 13, "format": "d", "tickCount": 100, "labelOverlap": false, "values": [0,50,100,150,200,250], "titlePadding": 3}},
       "y2": {"field": "y2"}}},
    {"data": {"values": [{"x":2.611,"y":3.5},{"x":2.982,"y":3.5},{"x":3.094,"y":4.6},{"x":3.549,"y":6.6},{"x":3.911,"y":9.7},{"x":4.315,"y":26.2},{"x":4.498,"y":40.6},{"x":4.602,"y":116.2}]},
     "mark": {"type": "circle", "color": "#0a840a", "size": 16, "opacity": 1},
     "encoding": {"x": {"field": "x", "type": "quantitative"}, "y": {"field": "y", "type": "quantitative"}}},
    {"data": {"values": [{"x":4.745,"y":237.7}]},
     "mark": {"type": "point", "filled": false, "color": "#0a840a", "size": 22, "strokeWidth": 1.3},
     "encoding": {"x": {"field": "x", "type": "quantitative"}, "y": {"field": "y", "type": "quantitative"}}},
    {"data": {"values": [{"x":3.604,"y":118.8,"t":"L"},{"x":3.465,"y":-42.4,"t":"L"},{"x":3.755,"y":-42.4,"t":"[ms]"}]},
     "mark": {"type": "text", "align": "left", "baseline": "alphabetic", "fontSize": 15},
     "encoding": {"x": {"field": "x", "type": "quantitative"}, "y": {"field": "y", "type": "quantitative"}, "text": {"field": "t"}, "color": {"condition": {"test": "datum.y > 0", "value": "#808080"}, "value": "#111"}}},
    {"data": {"values": [{"x":3.705,"y":112.2,"t":"T"},{"x":3.565,"y":-49.4,"t":"ST"}]},
     "mark": {"type": "text", "align": "left", "baseline": "alphabetic", "fontSize": 10},
     "encoding": {"x": {"field": "x", "type": "quantitative"}, "y": {"field": "y", "type": "quantitative"}, "text": {"field": "t"}, "color": {"condition": {"test": "datum.y > 0", "value": "#808080"}, "value": "#111"}}},
    {"data": {"values": [{"x":2.033,"y":263.9,"t":"E"}]},
     "mark": {"type": "text", "align": "left", "baseline": "alphabetic", "fontSize": 15, "fontWeight": "bold", "color": "#000"},
     "encoding": {"x": {"field": "x", "type": "quantitative"}, "y": {"field": "y", "type": "quantitative"}, "text": {"field": "t"}}}
  ]},
  {"data": {"values": [{"x":2.5,"y":0}]},
   "mark": {"type": "point", "opacity": 0},
   "encoding": {"x": {"field": "x", "type": "quantitative", "scale": {"domain": [2.5,5], "nice": false, "zero": false}, "axis": {"orient": "top", "labels": false, "title": null, "domain": false, "tickCount": 100, "values": [2.5,3,3.5,4,4.5,5]}},
     "y": {"field": "y", "type": "quantitative", "scale": {"domain": [-1.5,250], "nice": false, "zero": false}, "axis": {"orient": "right", "labels": false, "title": null, "domain": false, "tickCount": 100, "values": [0,50,100,150,200,250]}}}}
 ],
 "resolve": {"axis": {"x": "independent", "y": "independent"}}
},
{"width": 68, "height": 163, "view": {"stroke": null}, "data": {"values": [{"a":1}]}, "mark": {"type": "point", "opacity": 0}, "encoding": {}},
{
 "width": 203, "height": 163,
 "layer": [
  {"layer": [
    {"data": {"values": [{"x":-3.48,"y":4.533},{"x":-0.75,"y":1.5025}]},
     "mark": {"type": "line", "color": "#222", "strokeWidth": 1},
     "encoding": {"x": {"field": "x", "type": "quantitative", "scale": {"domain": [-3.6,-0.54], "nice": false, "zero": false}, "axis": {"title": null, "tickCount": 100, "labelOverlap": false, "values": [-3.5,-3,-2.5,-2,-1.5,-1], "format": ".1f"}},
       "y": {"field": "y", "type": "quantitative", "scale": {"domain": [1.5,5], "nice": false, "zero": false}, "axis": {"title": "ln(σ)", "titleFontSize": 15, "format": ".1f", "tickCount": 100, "labelOverlap": false, "values": [1.5,2,2.5,3,3.5,4,4.5,5], "labelExpr": "datum.value % 1 == 0.5 ? datum.label : ''", "titlePadding": 6}}}},
    {"data": {"values": [{"x":-3.484,"y":4.779},{"x":-2.932,"y":3.74},{"x":-2.364,"y":3.319},{"x":-1.696,"y":2.451},{"x":-1.324,"y":2.151},{"x":-0.997,"y":1.886},{"x":-0.932,"y":1.743},{"x":-0.741,"y":1.665}]},
     "mark": {"type": "circle", "color": "#0a840a", "size": 16, "opacity": 1},
     "encoding": {"x": {"field": "x", "type": "quantitative"}, "y": {"field": "y", "type": "quantitative"}}},
    {"data": {"values": [{"x":-3.0769,"y":4.656,"t":"ln(σ)=−1.11·ln[ (L"},{"x":-1.7203,"y":4.656,"t":"-L"},{"x":-1.4189,"y":4.656,"t":")/L"},{"x":-1.0917,"y":4.656,"t":"]+0.67"}]},
     "mark": {"type": "text", "align": "left", "baseline": "alphabetic", "fontSize": 11, "color": "#111"},
     "encoding": {"x": {"field": "x", "type": "quantitative"}, "y": {"field": "y", "type": "quantitative"}, "text": {"field": "t"}}},
    {"data": {"values": [{"x":-1.8077,"y":4.592,"t":"C"},{"x":-1.5726,"y":4.592,"t":"ST"},{"x":-1.2258,"y":4.592,"t":"C"}]},
     "mark": {"type": "text", "align": "left", "baseline": "alphabetic", "fontSize": 8, "color": "#111"},
     "encoding": {"x": {"field": "x", "type": "quantitative"}, "y": {"field": "y", "type": "quantitative"}, "text": {"field": "t"}}},
    {"data": {"values": [{"x":-2.6157,"y":0.856,"t":"ln[ (L"},{"x":-2.0052,"y":0.856,"t":"-L"},{"x":-1.6118,"y":0.856,"t":") / L"},{"x":-1.051,"y":0.856,"t":"]"}]},
     "mark": {"type": "text", "align": "left", "baseline": "alphabetic", "fontSize": 15, "color": "#111"},
     "encoding": {"x": {"field": "x", "type": "quantitative"}, "y": {"field": "y", "type": "quantitative"}, "text": {"field": "t"}}},
    {"data": {"values": [{"x":-2.1137,"y":0.781,"t":"C"},{"x":-1.8047,"y":0.781,"t":"ST"},{"x":-1.2228,"y":0.781,"t":"C"}]},
     "mark": {"type": "text", "align": "left", "baseline": "alphabetic", "fontSize": 10, "color": "#111"},
     "encoding": {"x": {"field": "x", "type": "quantitative"}, "y": {"field": "y", "type": "quantitative"}, "text": {"field": "t"}}},
    {"data": {"values": [{"x":-4.248,"y":5.193,"t":"F"}]},
     "mark": {"type": "text", "align": "left", "baseline": "alphabetic", "fontSize": 15, "fontWeight": "bold", "color": "#000"},
     "encoding": {"x": {"field": "x", "type": "quantitative"}, "y": {"field": "y", "type": "quantitative"}, "text": {"field": "t"}}}
  ]},
  {"data": {"values": [{"x":-3.5,"y":2}]},
   "mark": {"type": "point", "opacity": 0},
   "encoding": {"x": {"field": "x", "type": "quantitative", "scale": {"domain": [-3.6,-0.54], "nice": false, "zero": false}, "axis": {"orient": "top", "labels": false, "title": null, "domain": false, "tickCount": 100, "values": [-3.5,-3,-2.5,-2,-1.5,-1]}},
     "y": {"field": "y", "type": "quantitative", "scale": {"domain": [1.5,5], "nice": false, "zero": false}, "axis": {"orient": "right", "labels": false, "title": null, "domain": false, "tickCount": 100, "values": [1.5,2,2.5,3,3.5,4,4.5,5]}}}}
 ],
 "resolve": {"axis": {"x": "independent", "y": "independent"}}
}
]
}
